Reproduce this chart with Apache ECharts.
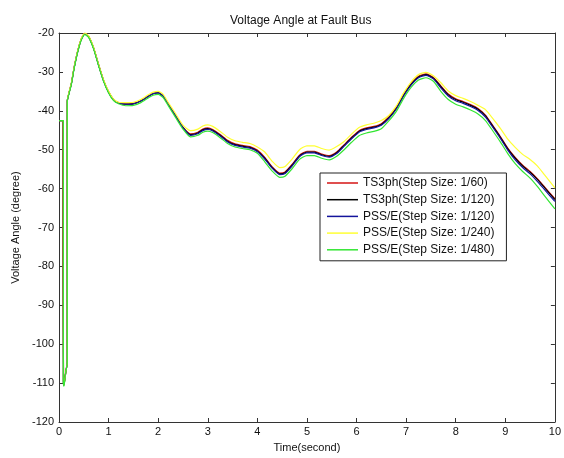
<!DOCTYPE html>
<html>
<head>
<meta charset="utf-8">
<script src="https://cdn.jsdelivr.net/npm/echarts@6/dist/echarts.min.js"></script>
<style>
  html, body { margin: 0; padding: 0; background: #fff; }
  #chart { width: 564px; height: 458px; }
</style>
</head>
<body>
<div id="chart"></div>
<script>
// time axis (seconds), shared by every trace
var time = [0, 0.088, 0.088, 0.1, 0.133, 0.167, 0.167, 0.2, 0.25, 0.3, 0.35, 0.4, 0.45, 0.52,
    0.6, 0.7, 0.8, 0.9, 1.0, 1.1, 1.2, 1.35, 1.5, 1.65, 1.8, 1.9, 2.0, 2.1, 2.2,
    2.35, 2.5, 2.65, 2.8, 2.9, 3.0, 3.1, 3.25, 3.4, 3.55, 3.7, 3.85, 4.0,
    4.15, 4.3, 4.45, 4.55, 4.7, 4.85, 5.0, 5.15, 5.3, 5.45, 5.6, 5.75, 5.9, 6.05,
    6.2, 6.35, 6.5, 6.65, 6.8, 6.95, 7.1, 7.25, 7.4, 7.55, 7.7, 7.85, 8.0,
    8.15, 8.3, 8.45, 8.6, 8.75, 8.9, 9.05, 9.2, 9.35, 9.5, 9.65, 9.8, 10.0];
// the 1/60 run steps at a slightly earlier instant
var faultTime60 = [0, 0.075, 0.075];

var ts3ph60 = [-42.5, -42.5, -76, -110.5, -107.5, -104.5, -37.5,
    -35.4, -32.9, -29.2, -26.1, -23.5, -21.5, -20.1, -20.9, -23.9, -28.2, -32.2, -35.1, -37.1, -37.9,
    -38.2, -38.1, -37.4, -36.2, -35.5, -35.3, -36.1, -38.1, -41.2, -44.2,
    -45.9, -45.5, -44.7, -44.4, -44.8, -46.1, -47.6, -48.5, -48.9, -49.2, -50.1,
    -52.0, -54.4, -56.0, -55.8, -53.8, -51.4, -50.4, -50.4, -51.1, -51.5, -50.6,
    -48.7, -46.8, -45.1, -44.4, -44.0, -43.3, -41.6, -39.2, -35.8, -33.0, -31.1, -30.5, -31.4,
    -33.6, -35.7, -36.9, -37.6, -38.4, -39.4, -41.1, -43.8, -46.6, -49.6, -52.0, -54.0, -55.6, -57.5, -59.7, -62.6];

var ts3ph120 = [-42.5, -42.5, -109.5, -110.5, -107.5, -104.5, -37.5,
    -35.5, -33.0, -29.3, -26.2, -23.6, -21.6, -20.2, -21.0, -24.0, -28.3, -32.3, -35.2, -37.2, -38.0,
    -38.3, -38.2, -37.5, -36.3, -35.6, -35.4, -36.2, -38.2, -41.3, -44.3,
    -46.1, -45.7, -44.9, -44.6, -45.0, -46.3, -47.8, -48.7, -49.1, -49.4, -50.3,
    -52.2, -54.6, -56.2, -56.0, -54.0, -51.6, -50.6, -50.6, -51.3, -51.7, -50.8,
    -48.9, -47.0, -45.3, -44.6, -44.2, -43.5, -41.8, -39.4, -36.0, -33.2, -31.3, -30.7, -31.6,
    -33.8, -35.9, -37.1, -37.8, -38.6, -39.6, -41.3, -44.0, -46.8, -49.8, -52.2, -54.2, -55.8, -57.7, -59.9, -62.8];

var psse120 = [-42.5, -42.5, -109.5, -110.5, -107.5, -104.5, -37.5,
    -35.5, -33.0, -29.3, -26.2, -23.6, -21.6, -20.2, -21.0, -24.0, -28.3, -32.3, -35.2, -37.2, -38.0,
    -38.3, -38.2, -37.5, -36.3, -35.6, -35.4, -36.2, -38.2, -41.3, -44.3,
    -46.3, -45.9, -45.1, -44.8, -45.2, -46.5, -48.0, -48.9, -49.3, -49.6, -50.5,
    -52.4, -54.8, -56.4, -56.2, -54.2, -51.8, -50.8, -50.8, -51.5, -51.9, -51.0,
    -49.1, -47.2, -45.5, -44.8, -44.4, -43.7, -42.0, -39.6, -36.2, -33.4, -31.5, -30.9, -31.8,
    -34.1, -36.2, -37.4, -38.1, -38.9, -39.9, -41.6, -44.3, -47.1, -50.1, -52.6, -54.6, -56.2, -58.2, -60.4, -63.3];

var psse240 = [-42.5, -42.5, -109.5, -110.5, -107.5, -104.5, -37.5,
    -35.3, -32.8, -29.1, -26.0, -23.4, -21.4, -20.0, -20.8, -23.8, -28.1, -32.1, -35.0, -37.0, -37.8,
    -37.9, -37.8, -37.1, -35.9, -35.2, -35.0, -35.8, -37.8, -40.7, -43.7,
    -45.1, -44.7, -43.9, -43.6, -44.0, -45.3, -46.8, -47.7, -48.1, -48.4, -49.3,
    -50.6, -53.0, -54.6, -54.4, -52.4, -50.0, -49.0, -49.0, -49.7, -50.1, -49.2,
    -47.9, -46.0, -44.3, -43.6, -43.2, -42.5, -41.2, -38.8, -35.4, -32.6, -30.7, -30.1, -31.0,
    -32.8, -34.9, -36.1, -36.8, -37.6, -38.6, -39.7, -42.0, -44.5, -47.3, -49.4, -51.2, -52.5, -54.2, -56.6, -59.8];

var psse480 = [-42.5, -42.5, -109.5, -110.8, -107.5, -104.5, -37.5,
    -35.7, -33.2, -29.5, -26.4, -23.8, -21.8, -20.4, -21.2, -24.2, -28.5, -32.5, -35.4, -37.4, -38.2,
    -38.7, -38.6, -37.9, -36.7, -36.0, -35.8, -36.6, -38.6, -41.7, -44.7,
    -46.7, -46.3, -45.5, -45.2, -45.6, -46.9, -48.4, -49.3, -49.7, -50.0, -50.9,
    -53.1, -55.5, -57.1, -56.9, -54.9, -52.5, -51.5, -51.5, -52.2, -52.6, -51.7,
    -50.0, -48.1, -46.4, -45.7, -45.3, -44.6, -42.6, -40.2, -36.8, -34.0, -32.1, -31.5, -32.4,
    -35.0, -37.1, -38.3, -39.0, -39.8, -40.8, -42.5, -45.2, -48.0, -51.0, -53.6, -55.6, -57.3, -59.5, -62.0, -65.2];

var seriesNames = [
    'TS3ph(Step Size: 1/60)',
    'TS3ph(Step Size: 1/120)',
    'PSS/E(Step Size: 1/120)',
    'PSS/E(Step Size: 1/240)',
    'PSS/E(Step Size: 1/480)'
];
var seriesColors = ['#d41414', '#000000', '#14149c', '#ffff33', '#33e633'];

function pairUp(t, v) {
    return v.map(function (val, i) { return [t[i], val]; });
}

var time60 = faultTime60.concat(time.slice(3));
var allValues = [ts3ph60, ts3ph120, psse120, psse240, psse480];
var allTimes = [time60, time, time, time, time];

var font = 'Liberation Sans, Arial, sans-serif';
var chart = echarts.init(document.getElementById('chart'));

// matlab style box: every side gets a line and inward ticks
function frameAxis(extra) {
    var axis = {
        type: 'value',
        axisLine: { show: true, onZero: false, lineStyle: { color: '#333', width: 1 } },
        axisTick: { show: true, inside: true, length: 4, lineStyle: { color: '#333' } },
        axisLabel: { show: false },
        splitLine: { show: false }
    };
    return Object.assign(axis, extra);
}

var option = {
    backgroundColor: '#fff',
    animation: false,
    title: {
        text: 'Voltage Angle at Fault Bus',
        left: 225,
        top: 10,
        textStyle: { fontFamily: font, fontSize: 12, fontWeight: 'normal', color: '#111' }
    },
    grid: { left: 59, right: 8, top: 33, bottom: 34 },
    legend: {
        orient: 'vertical',
        left: 320,
        top: 173,
        padding: [4, 12, 5, 7],
        icon: 'rect',
        itemWidth: 31,
        itemHeight: 1.5,
        itemGap: 4.7,
        backgroundColor: '#fff',
        borderColor: '#222',
        borderWidth: 1,
        borderRadius: 0,
        data: seriesNames,
        textStyle: { fontFamily: font, fontSize: 12, color: '#111', lineHeight: 12 }
    },
    xAxis: [frameAxis({
        min: 0, max: 10, interval: 1,
        name: 'Time(second)', nameLocation: 'middle', nameGap: 20,
        nameTextStyle: { fontFamily: font, fontSize: 11, color: '#111' },
        axisLabel: { margin: 4, fontFamily: font, fontSize: 11, color: '#111' }
    }), frameAxis({
        min: 0, max: 10, interval: 1, position: 'top'
    })],
    yAxis: [frameAxis({
        min: -120, max: -20, interval: 10,
        name: 'Voltage Angle (degree)', nameLocation: 'middle', nameGap: 38,
        nameTextStyle: { fontFamily: font, fontSize: 11, color: '#111' },
        axisLabel: { margin: 5, fontFamily: font, fontSize: 11, color: '#111' }
    }), frameAxis({
        min: -120, max: -20, interval: 10, position: 'right'
    })],
    series: seriesNames.map(function (name, i) {
        return {
            name: name,
            type: 'line',
            symbol: 'none',
            smooth: 0.2,
            color: seriesColors[i],
            lineStyle: { width: 1.2, color: seriesColors[i] },
            data: pairUp(allTimes[i], allValues[i])
        };
    })
};

chart.setOption(option);
</script>
</body>
</html>
